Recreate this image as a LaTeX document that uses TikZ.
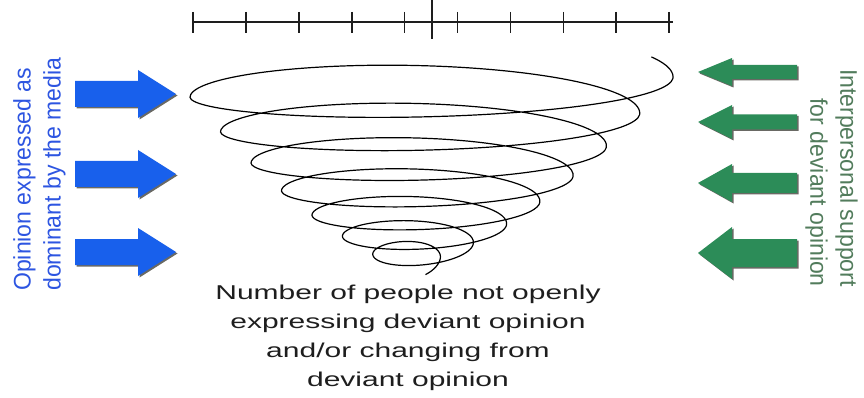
\documentclass[tikz,border=0pt]{standalone}
\usepackage{fontspec}
\setmainfont{Liberation Sans}
\newfontfamily\widesans[FakeStretch=1.5]{Liberation Sans}
\newfontfamily\tallsans[FakeStretch=0.96]{Liberation Sans}
\definecolor{mediablue}{RGB}{24,96,236}
\definecolor{mediatext}{RGB}{45,85,225}
\definecolor{supportgreen}{RGB}{44,140,88}
\definecolor{supporttext}{RGB}{82,124,92}
\definecolor{arrowshade}{RGB}{105,105,100}
\definecolor{ink}{RGB}{30,30,30}
\tikzset{
  axis line/.style={line width=1.6pt,ink},
  spiral/.style={line width=1.2pt,black,line join=round},
  media arrow/.style={fill=mediablue},
  support arrow/.style={fill=supportgreen},
  side label/.style={inner sep=0pt,font=\tallsans\fontsize{24}{30}\selectfont},
  count label/.style={inner sep=0pt,align=center,text=ink,
    font=\widesans\fontsize{20}{29}\selectfont},
  % block arrow: shaft half width / head half width / head length / total length
  pics/fat arrow/.style args={#1/#2/#3/#4}{code={
    \fill[arrowshade,shift={(1.5,1.5)}] (0,{-#1}) -- ({#4-(#3)},{-#1}) -- ({#4-(#3)},{-#2})
      -- ({#4},0) -- ({#4-(#3)},{#2}) -- ({#4-(#3)},{#1}) -- (0,{#1}) -- cycle;
    \fill (0,{-#1}) -- ({#4-(#3)},{-#1}) -- ({#4-(#3)},{-#2})
      -- ({#4},0) -- ({#4-(#3)},{#2}) -- ({#4-(#3)},{#1}) -- (0,{#1}) -- cycle;
  }},
}

\begin{document}
\begin{tikzpicture}[x=1pt,y=-1pt]
  \useasboundingbox (0,0) rectangle (864,398);

  % scale at the top
  \draw[axis line] (193,22) -- (673,22);
  \foreach \i in {0,...,9}
    \draw[axis line] ({193+52.9*\i},12) -- ++(0,21);
  \draw[axis line] (432,0) -- (432,39);

  % pressure from both sides
  \foreach \n/\y in {1/94,2/174,3/252}
    \pic[media arrow] (media\n) at (75,\y) {fat arrow=13/24/38/101};
  \foreach \n/\y/\s/\h in {1/72/7/14,2/122/7.5/17,3/183/10/19,4/253/14/26}
    \pic[support arrow] (support\n) at (797,\y) {fat arrow=\s/\h/-34/-99};

  % the spiral (turns shrink and sink), \u counts turns
  \draw[spiral] plot[domain=-0.07:7.16,samples=500,smooth,variable=\u]
    ({423.9-1.4*\u+(249.1-31.9*\u)*cos(360*\u)},
     {78+38*\u-1.714*\u*\u
      +sin(360*\u)*((sin(360*\u)>0)*(30-2.1*\u)+(1-(sin(360*\u)>0))*(43-4.2*\u))});

  \node[side label,text=mediatext,rotate=90,anchor=north west,align=left]
    (media text) at (13,291) {Opinion expressed as\\dominant by the media};
  \node[side label,text=supporttext,rotate=-90,anchor=north east,align=right]
    (support text) at (858,287) {Interpersonal support\\for deviant opinion};
  \node[count label,anchor=north] (count text) at (408,285)
    {Number of people not openly\\expressing deviant opinion\\and/or changing from\\deviant opinion};
\end{tikzpicture}
\end{document}
